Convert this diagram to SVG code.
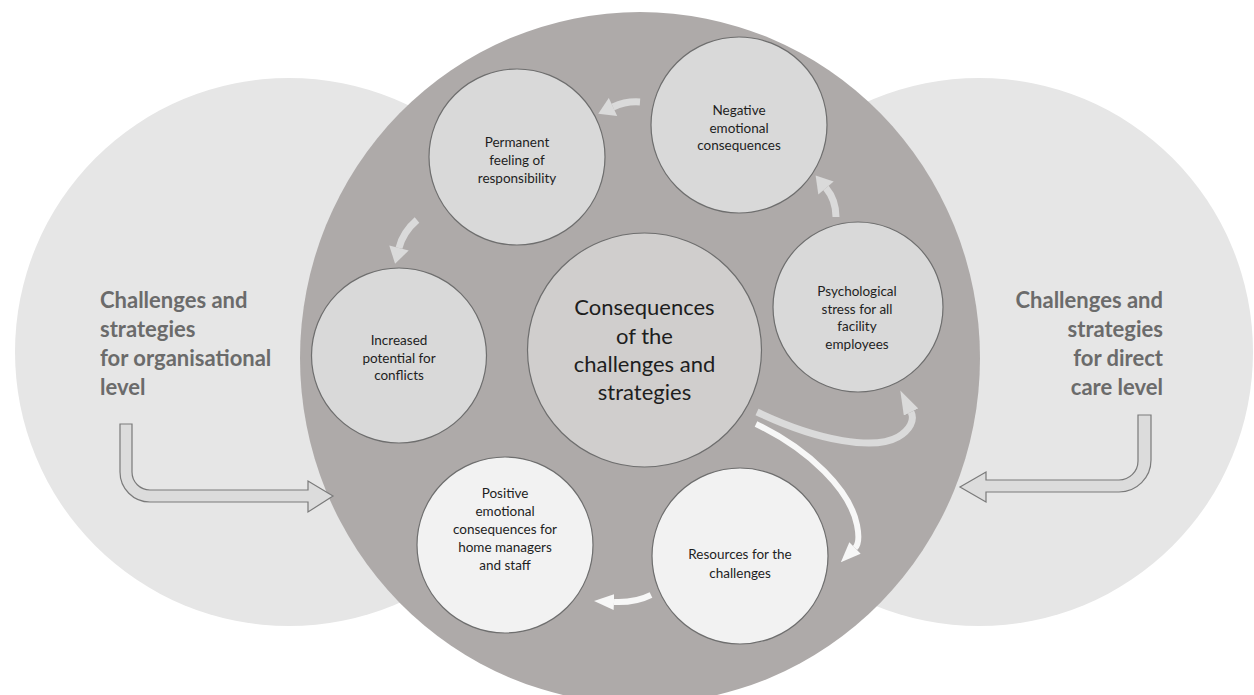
<svg xmlns="http://www.w3.org/2000/svg" width="1254" height="695" viewBox="0 0 1254 695">
  <defs>
    <style>
      .bg { fill: #e6e6e6; }
      .hub { fill: #aeaaa9; }
      .node { fill: #d9d9d9; stroke: #6e6e6e; stroke-width: 1.2; }
      .node-light { fill: #f2f2f2; stroke: #6e6e6e; stroke-width: 1.2; }
      .core { fill: #d0cecd; stroke: #6e6e6e; stroke-width: 1.2; }
      .side { font-family: Lato, "Liberation Sans", sans-serif; font-weight: bold; font-size: 22px; fill: #6b6b6b; }
      .lbl { font-family: Lato, "Liberation Sans", sans-serif; font-size: 13.5px; fill: #1e1e1e; text-anchor: middle; }
      .core-lbl { font-family: Lato, "Liberation Sans", sans-serif; font-size: 22px; fill: #1e1e1e; text-anchor: middle; }
      .bent { fill: #dcdcdc; stroke: #7a7a7a; stroke-width: 1.2; stroke-linejoin: miter; }
      .flow { fill: none; stroke: #dadada; stroke-width: 7; }
      .flow-w { fill: none; stroke: #f7f7f7; stroke-width: 6; }
    </style>
    <marker id="headGray" markerUnits="userSpaceOnUse" markerWidth="20" markerHeight="20" refX="0" refY="8" orient="auto" viewBox="0 0 14 16">
      <path d="M0,0 L13,8 L0,16 Z" fill="#dadada"/>
    </marker>
    <marker id="headGrayBig" markerUnits="userSpaceOnUse" markerWidth="24" markerHeight="16" refX="0" refY="8" orient="auto" viewBox="0 0 24 16">
      <path d="M0,0 L24,8 L0,16 Z" fill="#dadada"/>
    </marker>
    <marker id="headWhite" markerUnits="userSpaceOnUse" markerWidth="20" markerHeight="16" refX="0" refY="8" orient="auto" viewBox="0 0 20 16">
      <path d="M0,0 L20,8 L0,16 Z" fill="#f7f7f7"/>
    </marker>
  </defs>

  <!-- outer context levels -->
  <g id="organisational-level">
    <circle class="bg" cx="289" cy="352" r="274"/>
  </g>
  <g id="direct-care-level">
    <circle class="bg" cx="979" cy="352" r="274"/>
  </g>

  <!-- central consequences area -->
  <g id="consequences-area">
    <ellipse class="hub" cx="640" cy="358" rx="340" ry="346"/>
  </g>

  <g id="side-labels">
    <text class="side" x="100" y="308">Challenges and</text>
    <text class="side" x="100" y="337">strategies</text>
    <text class="side" x="100" y="366">for organisational</text>
    <text class="side" x="100" y="395">level</text>
    <text class="side" x="1163" y="308" text-anchor="end">Challenges and</text>
    <text class="side" x="1163" y="337" text-anchor="end">strategies</text>
    <text class="side" x="1163" y="366" text-anchor="end">for direct</text>
    <text class="side" x="1163" y="395" text-anchor="end">care level</text>
  </g>

  <g id="core">
    <circle class="core" cx="644.5" cy="350" r="117"/>
    <text class="core-lbl" x="644.5" y="315">Consequences</text>
    <text class="core-lbl" x="644.5" y="343.5">of the</text>
    <text class="core-lbl" x="644.5" y="372">challenges and</text>
    <text class="core-lbl" x="644.5" y="400">strategies</text>
  </g>

  <g id="permanent-responsibility">
    <circle class="node" cx="517" cy="157" r="88"/>
    <text class="lbl" x="517" y="147">Permanent</text>
    <text class="lbl" x="517" y="165">feeling of</text>
    <text class="lbl" x="517" y="183">responsibility</text>
  </g>

  <g id="negative-emotional">
    <circle class="node" cx="739" cy="125" r="88"/>
    <text class="lbl" x="739" y="115">Negative</text>
    <text class="lbl" x="739" y="133">emotional</text>
    <text class="lbl" x="739" y="150">consequences</text>
  </g>

  <g id="psychological-stress">
    <circle class="node" cx="858" cy="307" r="85"/>
    <text class="lbl" x="857" y="296">Psychological</text>
    <text class="lbl" x="857" y="314">stress for all</text>
    <text class="lbl" x="857" y="331">facility</text>
    <text class="lbl" x="857" y="349">employees</text>
  </g>

  <g id="increased-conflicts">
    <circle class="node" cx="399" cy="355.5" r="87.5"/>
    <text class="lbl" x="399" y="345">Increased</text>
    <text class="lbl" x="399" y="363">potential for</text>
    <text class="lbl" x="399" y="380">conflicts</text>
  </g>

  <g id="resources">
    <circle class="node-light" cx="740" cy="556" r="88"/>
    <text class="lbl" x="740" y="559">Resources for the</text>
    <text class="lbl" x="740" y="578">challenges</text>
  </g>

  <g id="positive-emotional">
    <circle class="node-light" cx="505" cy="545" r="88"/>
    <text class="lbl" x="505" y="498">Positive</text>
    <text class="lbl" x="505" y="516">emotional</text>
    <text class="lbl" x="505" y="534">consequences for</text>
    <text class="lbl" x="505" y="552">home managers</text>
    <text class="lbl" x="505" y="570">and staff</text>
  </g>

  <g id="connectors">
    <!-- inputs from the two levels -->
    <path class="bent" d="M120,424 H132 V472 A18,18 0 0 0 150,490 H308 V481 L333,496 L308,512 V502 H150 A30,30 0 0 1 120,472 Z"/>
    <path class="bent" d="M1151,415 H1138 V461 A19,19 0 0 1 1119,480 H986 V472 L960,487 L986,502 V492 H1119 A32,32 0 0 0 1151,460 Z"/>
    <!-- cycle between the consequence nodes -->
    <path class="flow" d="M640,102 Q626,101 613,107" marker-end="url(#headGray)"/>
    <path class="flow" d="M417,220 Q403,232 399,248" marker-end="url(#headGray)"/>
    <path class="flow" d="M836,217 Q836,200 826,188" marker-end="url(#headGray)"/>
    <path class="flow" stroke-width="6" d="M757,412 C820,442 875,450 898,437 C910,430 915,420 911,412" marker-end="url(#headGrayBig)"/>
    <path class="flow-w" stroke-width="5" d="M756,424 C810,450 850,490 857,525 C860,540 858,545 855,548" marker-end="url(#headWhite)"/>
    <path class="flow-w" stroke-width="7" d="M651,595 Q635,603 614,602" marker-end="url(#headWhite)"/>
  </g>
</svg>
